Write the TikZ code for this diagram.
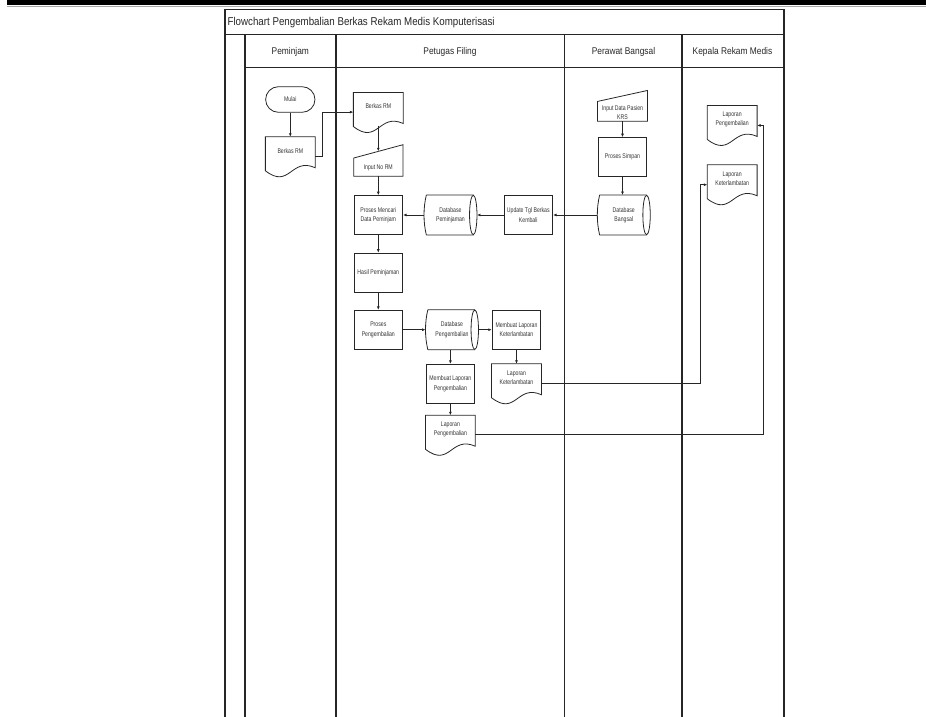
\documentclass[tikz,border=0pt]{standalone}
\usepackage{fontspec}
\setmainfont{Liberation Sans}
\newfontfamily\narrowfont{Liberation Sans}[FakeStretch=0.86]
\newfontfamily\tinyfont{Liberation Sans}[FakeStretch=0.76]
\usetikzlibrary{calc,arrows.meta}
\newcommand\titletxt{\narrowfont\fontsize{8.5pt}{10pt}\selectfont}
\newcommand\headtxt{\narrowfont\fontsize{7.3pt}{9pt}\selectfont}
\newcommand\tinytxt{\tinyfont\fontsize{5.1pt}{7pt}\selectfont}
\newcommand\docout[1]{\draw[shp] (#1.north west) -- (#1.north east) -- ($(#1.south east)+(0,-3)$) .. controls ($(#1.south east)+(-24.5,-14)$) and ($(#1.south west)+(24.5,19)$) .. (#1.south west) -- cycle;}
\newcommand\minout[2]{\draw[shp] (#1.south west) -- ($(#1.north west)+(0,#2)$) -- (#1.north east) -- (#1.south east) -- cycle;}
\newcommand\cylout[1]{\draw[shp] ($(#1.north west)+(2.3,0)$) -- ($(#1.north east)+(-3.7,0)$) ($(#1.south west)+(2.3,0)$) -- ($(#1.south east)+(-3.7,0)$) ($(#1.north west)+(2.3,0)$) .. controls ($(#1.north west)+(-0.8,13)$) and ($(#1.south west)+(-0.8,-13)$) .. ($(#1.south west)+(2.3,0)$); \draw[shp] ($(#1.east)+(-3.7,0)$) ellipse [x radius=2.78pt, y radius=14.8pt];}
\tikzset{
  lane/.style={line width=0.8pt, draw=black!85},
  shp/.style={line width=0.6pt, draw=black!85},
  arr/.style={line width=0.6pt, draw=black!85, -{Latex[length=2.6pt,width=2.2pt]}},
  lab/.style={font=\tinytxt, text=black!80, align=center, inner sep=0pt},
  rectnode/.style={shp, draw, inner sep=0pt, minimum width=36.5pt, minimum height=29.1pt, align=center, font=\tinytxt, text=black!80},
  termnode/.style={shp, draw, rounded corners=9.6pt, inner sep=0pt, minimum width=37pt, minimum height=19.2pt, font=\tinytxt, text=black!80},
  docnode/.style={inner sep=0pt, minimum width=37pt, minimum height=25.1pt, label={[lab,yshift=2.25pt]center:#1}},
  cylnode/.style={inner sep=0pt, minimum width=39.3pt, minimum height=29.6pt, align=center, font=\tinytxt, text=black!80},
  headnode/.style={font=\headtxt, inner sep=0pt, text=black!85}
}
\begin{document}
\begin{tikzpicture}[x=0.75pt,y=-0.75pt]
\useasboundingbox (0,0) rectangle (926,717);
% top bar
\fill[black] (7,0) rectangle (926,4.7);
\draw[gray!70, line width=0.9pt] (7,6.3) -- (926,6.3);
% frame
\draw[lane] (225,717) -- (225,9.3) -- (784,9.3) -- (784,717);
\draw[lane] (225,34.3) -- (784,34.3);
\draw[lane] (245,34.3) -- (245,717);
\draw[lane] (245,67.5) -- (784,67.5);
\draw[lane] (336,34.3) -- (336,717);
\draw[lane] (564.5,34.3) -- (564.5,717);
\draw[lane] (682,34.3) -- (682,717);
% texts
\node[anchor=west, font=\titletxt, inner sep=0pt, text=black!85] (title) at (227.3,22.7) {Flowchart Pengembalian Berkas Rekam Medis Komputerisasi};
\node[headnode] (h1) at (290.3,51.7) {Peminjam};
\node[headnode] (h2) at (450,51.7) {Petugas Filing};
\node[headnode] (h3) at (623.5,51.7) {Perawat Bangsal};
\node[headnode] (h4) at (732.5,51.7) {Kepala Rekam Medis};
% Peminjam
\node[termnode] (mulai) at (290.3,99.5) {Mulai};
\node[docnode={Berkas RM}] (brm1) at (290.3,153.75) {};
% Petugas Filing
\node[docnode={Berkas RM}] (brm2) at (378.3,109.5) {};
\node[inner sep=0pt, minimum width=36.5pt, minimum height=23.25pt, label={[lab,yshift=-5.85pt]center:Input No RM}] (inrm) at (378.3,160.5) {};
\node[rectnode] (pmdp) at (378.3,215) {Proses Mencari\\Data Peminjam};
\node[cylnode] (dbpj) at (450.5,215) {Database\\Peminjaman};
\node[rectnode] (utbk) at (528.3,215) {Update Tgl Berkas\\Kembali};
\node[rectnode] (hasil) at (378.3,272.5) {Hasil Peminjaman};
\node[rectnode] (ppg) at (378.3,329.7) {Proses\\Pengembalian};
\node[cylnode] (dbpg) at (452,329.7) {Database\\Pengembalian};
\node[rectnode] (mlk) at (516.5,329.7) {Membuat Laporan\\Keterlambatan};
\node[rectnode] (mlp) at (450.4,383.7) {Membuat Laporan\\Pengembalian};
\node[docnode={Laporan\\Keterlambatan}] (lk1) at (516.5,380.75) {};
\node[docnode={Laporan\\Pengembalian}] (lp1) at (450.4,432.25) {};
% Perawat Bangsal
\node[inner sep=0pt, minimum width=37.2pt, minimum height=22.7pt, label={[lab,yshift=-5pt]center:{Input Data Pasien\\KRS}}] (idp) at (622.5,105.85) {};
\node[rectnode] (ps) at (622.5,157) {Proses Simpan};
\node[cylnode] (dbb) at (623.8,215) {Database\\Bangsal};
% Kepala Rekam Medis
\node[docnode={Laporan\\Pengembalian}] (lp2) at (732.2,122.45) {};
\node[docnode={Laporan\\Keterlambatan}] (lk2) at (732.2,181.75) {};
% outlines
\docout{brm1}\docout{brm2}\docout{lk1}\docout{lp1}\docout{lp2}\docout{lk2}
\minout{inrm}{13.3}\minout{idp}{11}
\cylout{dbpj}\cylout{dbpg}\cylout{dbb}
% connectors
\draw[arr] (mulai.south) -- (brm1.north);
\draw[arr] ($(brm1.east)+(0,3)$) -- ++(6.7,0) |- ($(brm2.west)+(0,2.6)$);
\draw[arr] (brm2.south) -- ($(inrm.north)+(0,6.5)$);
\draw[arr] (inrm.south) -- (pmdp.north);
\draw[arr] (pmdp.south) -- (hasil.north);
\draw[arr] (hasil.south) -- (ppg.north);
\draw[arr] (utbk.west) -- (dbpj.east);
\draw[arr] (dbpj.west) -- (pmdp.east);
\draw[arr] (dbb.west) -- (utbk.east);
\draw[arr] (idp.south) -- (ps.north);
\draw[arr] (ps.south) -- (ps.south |- dbb.north);
\draw[arr] (ppg.east) -- (dbpg.west);
\draw[arr] (dbpg.east) -- (mlk.west);
\draw[arr] (dbpg.south -| mlp.north) -- (mlp.north);
\draw[arr] (mlk.south) -- (lk1.north);
\draw[arr] (mlp.south) -- (lp1.north);
\draw[arr] ($(lk1.east)+(0,3)$) -| ($(lk2.west)+(-7,3)$) -- ($(lk2.west)+(0,3)$);
\draw[arr] ($(lp1.east)+(0,2)$) -| ($(lp2.east)+(6.6,3)$) -- ($(lp2.east)+(0,3)$);
\end{tikzpicture}
\end{document}
